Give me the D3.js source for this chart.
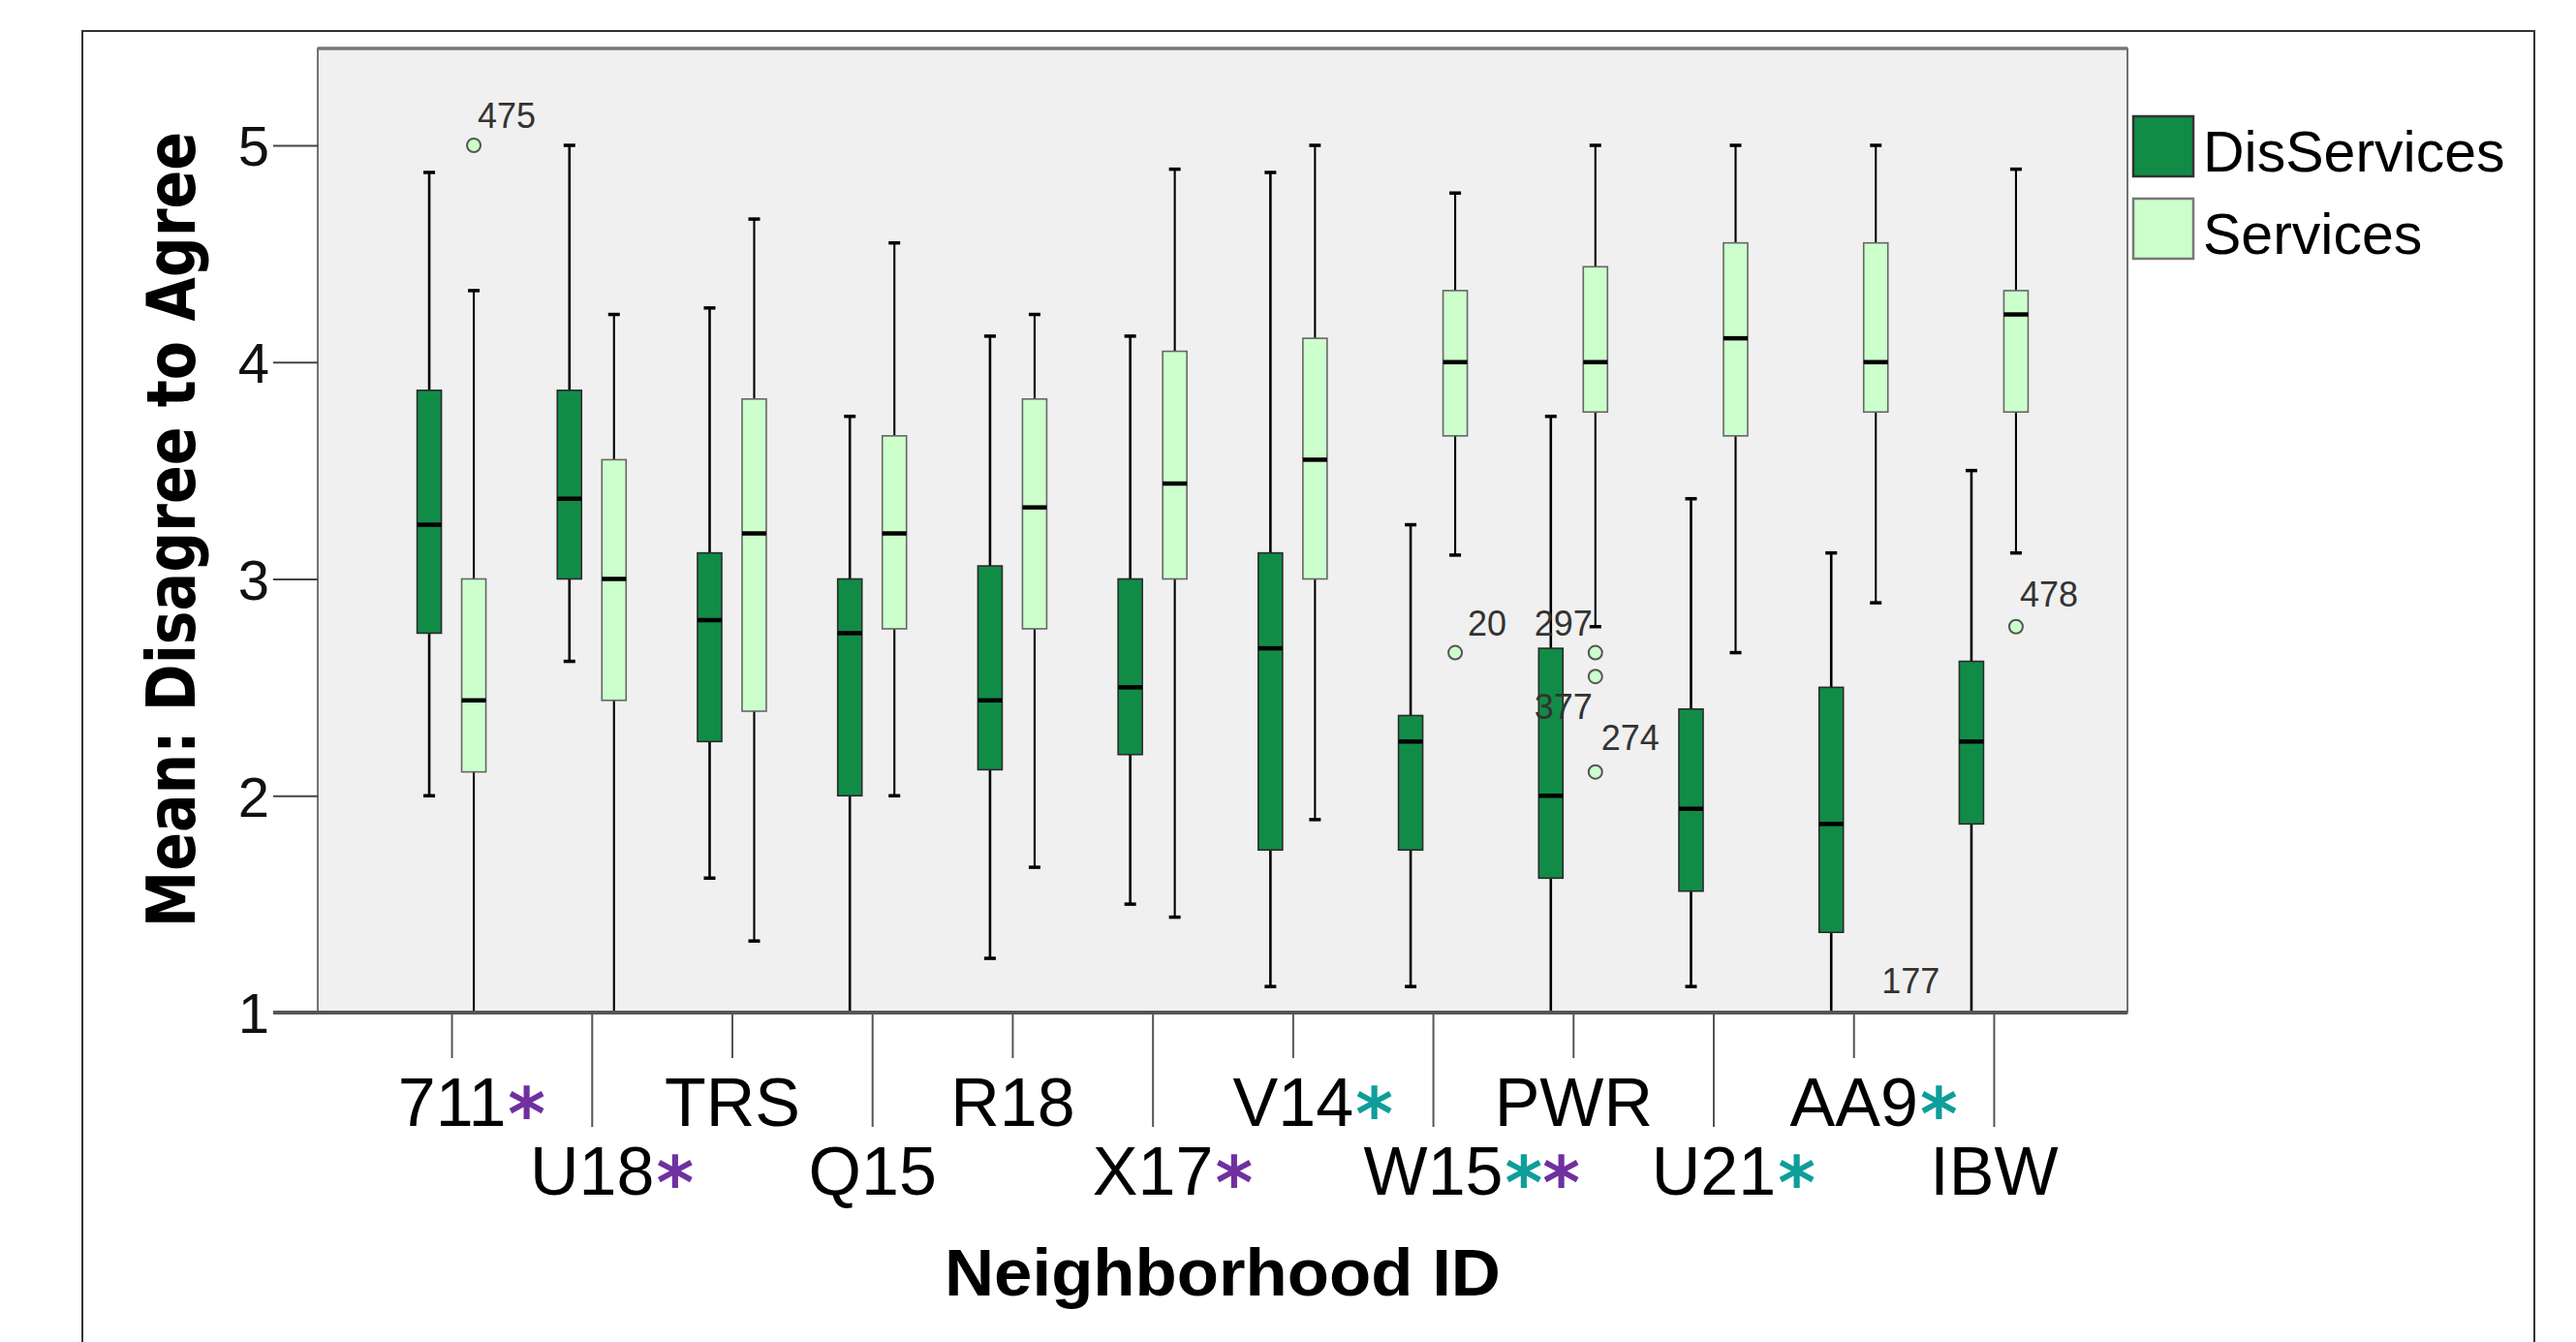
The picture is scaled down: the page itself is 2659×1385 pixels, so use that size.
<!DOCTYPE html>
<html>
<head>
<meta charset="utf-8">
<script src="https://cdn.jsdelivr.net/npm/d3@7"></script>
<style>
  body { margin: 0; background: #fff; }
  text { font-family: "Liberation Sans", Arial, sans-serif; }
</style>
</head>
<body>
<svg id="chart" width="2659" height="1385"></svg>
<script>
// neighborhoods along the x axis
const neighborhoods = ["711", "U18", "TRS", "Q15", "R18", "X17", "V14", "W15", "PWR", "U21", "AA9", "IBW"];
// significance marks after each id: p = purple, t = teal
const marks = [["p"], ["p"], [], [], [], ["p"], ["t"], ["t", "p"], [], ["t"], ["t"], []];

// [whisker low, Q1, median, Q3, whisker high]
const disServices = [
  [2.0, 2.75, 3.25, 3.87, 4.875],
  [2.62, 3.0, 3.37, 3.87, 5.0],
  [1.62, 2.25, 2.81, 3.12, 4.25],
  [1.0, 2.0, 2.75, 3.0, 3.75],
  [1.25, 2.12, 2.44, 3.06, 4.12],
  [1.5, 2.19, 2.5, 3.0, 4.12],
  [1.12, 1.75, 2.68, 3.12, 4.875],
  [1.12, 1.75, 2.25, 2.37, 3.25],
  [1.0, 1.62, 2.0, 2.68, 3.75],
  [1.12, 1.56, 1.94, 2.4, 3.37],
  [1.0, 1.37, 1.87, 2.5, 3.12],
  [1.0, 1.87, 2.25, 2.62, 3.5]
];
const services = [
  [1.0, 2.11, 2.44, 3.0, 4.33],
  [1.0, 2.44, 3.0, 3.55, 4.22],
  [1.33, 2.39, 3.21, 3.83, 4.66],
  [2.0, 2.77, 3.21, 3.66, 4.55],
  [1.67, 2.77, 3.33, 3.83, 4.22],
  [1.44, 3.0, 3.44, 4.05, 4.89],
  [1.89, 3.0, 3.55, 4.11, 5.0],
  [3.11, 3.66, 4.0, 4.33, 4.78],
  [2.78, 3.77, 4.0, 4.44, 5.0],
  [2.66, 3.66, 4.11, 4.55, 5.0],
  [2.89, 3.77, 4.0, 4.55, 5.0],
  [3.12, 3.77, 4.22, 4.33, 4.89]
];
// outliers of the Services series
const outlierGroups = ["711", "W15", "PWR", "PWR", "PWR", "AA9", "IBW"];
const outlierValues = [5.0, 2.66, 2.66, 2.55, 2.11, 1.0, 2.78];
const outlierIds = ["475", "20", "297", "377", "274", "177", "478"];
// label placement next to each point
const outlierLabelShift = [[4, -18], [13, -18], [-63, -18], [-63, 44], [6, -23], [6, -20], [4, -21]];

const seriesNames = ["DisServices", "Services"];
const yTicks = [1, 2, 3, 4, 5];

const colors = { DisServices: "#118c47", Services: "#ccffcc" };
const markColors = { p: "#7030a0", t: "#0e9e9a" };

const svg = d3.select("#chart");
const plot = { left: 328, right: 2196, top: 50, bottom: 1045 };

const x = d3.scalePoint().domain(neighborhoods).range([plot.left, plot.right]).padding(0.954);
const y = d3.scaleLinear().domain([1, 5]).range([plot.bottom, 150]);
const offset = 23, boxW = 25, capW = 12;

// outer frame
svg.append("rect")
  .attr("x", 85).attr("y", 32)
  .attr("width", 2531).attr("height", 1420)
  .attr("fill", "none").attr("stroke", "#333").attr("stroke-width", 2);

// plot background
svg.append("rect")
  .attr("x", plot.left).attr("y", plot.top)
  .attr("width", plot.right - plot.left).attr("height", plot.bottom - plot.top)
  .attr("fill", "#f0f0f0").attr("stroke", "#444").attr("stroke-width", 1.5);
svg.append("line")
  .attr("x1", plot.left).attr("x2", plot.right)
  .attr("y1", plot.top).attr("y2", plot.top)
  .attr("stroke", "#777").attr("stroke-width", 3.5);

// boxes
const drawSeries = (data, name, dx) => {
  const g = svg.append("g").attr("class", name);
  const isDark = name === "DisServices";
  const groups = g.selectAll("g").data(data).enter().append("g")
    .attr("transform", (d, i) => `translate(${x(neighborhoods[i]) + dx},0)`);

  // whiskers
  groups.append("line")
    .attr("y1", d => y(d[0])).attr("y2", d => y(d[1]))
    .attr("stroke", "#000").attr("stroke-width", isDark ? 2.6 : 2.1);
  groups.append("line")
    .attr("y1", d => y(d[3])).attr("y2", d => y(d[4]))
    .attr("stroke", "#000").attr("stroke-width", isDark ? 2.6 : 2.1);
  groups.selectAll(".cap").data(d => [d[0], d[4]]).enter().append("line")
    .attr("class", "cap")
    .attr("x1", -capW / 2).attr("x2", capW / 2)
    .attr("y1", v => y(v)).attr("y2", v => y(v))
    .attr("stroke", "#000").attr("stroke-width", 3.5);

  groups.append("rect")
    .attr("x", -boxW / 2).attr("width", boxW)
    .attr("y", d => y(d[3])).attr("height", d => y(d[1]) - y(d[3]))
    .attr("fill", colors[name])
    .attr("stroke", isDark ? "#2b2b2b" : "#666").attr("stroke-width", 1.6);

  groups.append("line")
    .attr("x1", -boxW / 2).attr("x2", boxW / 2)
    .attr("y1", d => y(d[2])).attr("y2", d => y(d[2]))
    .attr("stroke", "#000").attr("stroke-width", 4.5);
};
drawSeries(disServices, "DisServices", -offset);
drawSeries(services, "Services", offset);

// outliers
const out = svg.append("g").attr("class", "outliers");
outlierValues.forEach((v, i) => {
  const cx = x(outlierGroups[i]) + offset, cy = y(v);
  if (v > 1) {
    out.append("circle")
      .attr("cx", cx).attr("cy", cy).attr("r", 7)
      .attr("fill", colors.Services).attr("stroke", "#555").attr("stroke-width", 2);
  }
  out.append("text")
    .attr("x", cx + outlierLabelShift[i][0]).attr("y", cy + outlierLabelShift[i][1])
    .attr("font-size", 36).attr("fill", "#333")
    .text(outlierIds[i]);
});

// y axis
const yAxis = svg.append("g")
  .attr("transform", `translate(${plot.left},0)`)
  .call(d3.axisLeft(y).tickValues(yTicks).tickSize(46).tickPadding(4).tickFormat(d3.format("d")));
yAxis.select(".domain").remove();
yAxis.selectAll(".tick line").attr("stroke", "#444").attr("stroke-width", 2);
yAxis.selectAll(".tick text")
  .attr("font-size", 58).attr("fill", "#111").attr("dy", "0.36em")
  .style("font-family", "'Liberation Sans', Arial, sans-serif");

// x axis
const xAxis = svg.append("g")
  .attr("transform", `translate(0,${plot.bottom})`)
  .call(d3.axisBottom(x).tickSize(0).tickPadding(0));
xAxis.select(".domain").remove();
xAxis.selectAll(".tick line")
  .attr("y1", 2)
  .attr("y2", (d, i) => i % 2 === 0 ? 47 : 118)
  .attr("stroke", "#555").attr("stroke-width", 2);
xAxis.selectAll(".tick text")
  .attr("y", (d, i) => i % 2 === 0 ? 117 : 188)
  .attr("dy", 0)
  .attr("font-size", 70).attr("fill", "#000")
  .style("font-family", "'Liberation Sans', Arial, sans-serif");
xAxis.selectAll(".tick").each(function (d, i) {
  const t = d3.select(this).select("text");
  const w = t.node().getComputedTextLength();
  const m = d3.select(this).append("text")
    .attr("x", w / 2 + 2)
    .attr("y", (i % 2 === 0 ? 117 : 188) + 14)
    .attr("text-anchor", "start")
    .attr("font-size", 74).attr("font-weight", "bold")
    .style("font-family", "'DejaVu Sans', sans-serif");
  marks[i].forEach(k => m.append("tspan").attr("fill", markColors[k]).text("*"));
});

// bottom axis line
svg.append("line")
  .attr("x1", 282).attr("x2", plot.right)
  .attr("y1", plot.bottom).attr("y2", plot.bottom)
  .attr("stroke", "#555").attr("stroke-width", 4);

// axis titles
svg.append("text")
  .attr("transform", `translate(201,${(150 + 957 + 136 - 150) / 2 + 0}) rotate(-90)`)
  .attr("text-anchor", "middle")
  .attr("font-size", 69).attr("font-weight", "bold")
  .attr("textLength", 821).attr("lengthAdjust", "spacingAndGlyphs")
  .style("font-family", "'DejaVu Sans', Verdana, sans-serif")
  .text("Mean: Disagree to Agree");

svg.append("text")
  .attr("x", (plot.left + plot.right) / 2).attr("y", 1337)
  .attr("text-anchor", "middle")
  .attr("font-size", 69).attr("font-weight", "bold")
  .attr("textLength", 574).attr("lengthAdjust", "spacingAndGlyphs")
  .text("Neighborhood ID");

// legend
const legend = svg.append("g").attr("transform", "translate(2202,120)");
const items = legend.selectAll("g").data(seriesNames).enter().append("g")
  .attr("transform", (d, i) => `translate(0,${i * 85})`);
items.append("rect")
  .attr("width", 62).attr("height", 62)
  .attr("fill", d => colors[d])
  .attr("stroke", d => d === "DisServices" ? "#333" : "#777").attr("stroke-width", 2.5);
items.append("text")
  .attr("x", 72).attr("y", 57)
  .attr("font-size", 59).attr("fill", "#000")
  .text(d => d);
</script>
</body>
</html>
